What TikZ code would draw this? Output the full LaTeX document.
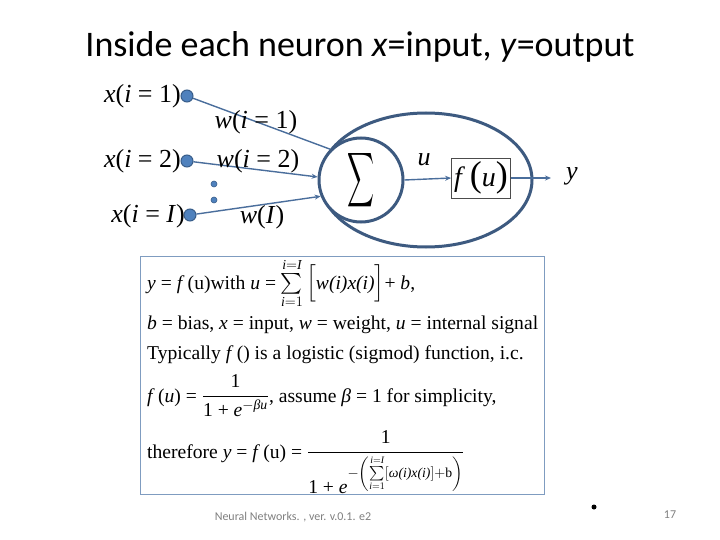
\documentclass[tikz,border=0pt]{standalone}
\usepackage{fontspec}
\usepackage{amsmath}
\usepackage{graphicx}
\setmainfont{Liberation Serif}
\newfontfamily\titlefont{Carlito}
\usetikzlibrary{arrows.meta,shapes.geometric}
\definecolor{dotblue}{HTML}{4F81BD}
\definecolor{dotedge}{HTML}{385D8A}
\definecolor{wireblue}{HTML}{4A6E9C}
\definecolor{cellblue}{HTML}{3D5A80}
\definecolor{panelblue}{HTML}{7F9CC0}
\definecolor{footgray}{HTML}{808080}
\newcommand{\vi}[1]{\textit{#1}}
\newcommand{\bigpar}[1]{{\fontsize{36}{36}\selectfont #1}}
\begin{document}
\begin{tikzpicture}[x=1pt,y=-1pt,
  inlabel/.style={font=\fontsize{26}{28}\selectfont, inner sep=0pt},
  dot/.style={circle, fill=dotblue, draw=dotedge, line width=1pt, minimum size=12pt, inner sep=0pt},
  smalldot/.style={circle, fill=dotblue, draw=dotedge, line width=0.6pt, minimum size=6pt, inner sep=0pt},
  wire/.style={draw=wireblue, line width=1.4pt},
  arr/.style={-{Stealth[length=6pt,width=5pt]}},
  cell/.style={draw=cellblue, line width=3pt},
  boxtext/.style={font=\fontsize{19.6}{22}\selectfont, inner sep=0pt, anchor=base west},
  foot/.style={font=\titlefont\fontsize{12}{14}\selectfont, text=footgray, inner sep=0pt}
]
\useasboundingbox (0,0) rectangle (720,540);
\fill[white] (0,0) rectangle (720,540);

% title
\node[font=\titlefont\fontsize{36}{40}\selectfont, inner sep=0pt] (title) at (360,47) {Inside each neuron \textit{x}=input, \textit{y}=output};

% neuron cell
\node[ellipse, cell, minimum width=212pt, minimum height=134pt, inner sep=0pt] (cellshape) at (426,180) {};
\node[circle, cell, minimum size=84pt, inner sep=0pt, fill=white] (sum) at (361,180) {\resizebox{27pt}{40pt}{$\displaystyle\sum$}};
\node[draw=black!70, line width=0.8pt, minimum width=59pt, minimum height=40pt, inner sep=0pt, font=\fontsize{28}{30}\selectfont] (fbox) at (481,178) {\vi{f}\,\bigpar{(}\vi{u}\bigpar{)}};
\coordinate (yend) at (551,178);

% inputs
\node[dot] (d1) at (187,96) {};
\node[dot] (d2) at (187,161) {};
\node[dot] (d3) at (190,215) {};
\node[smalldot] (e1) at (214,184) {};
\node[smalldot] (e2) at (214,200) {};

\node[inlabel, anchor=east] (x1) at (181,96) {\vi{x}(\vi{i} = 1)};
\node[inlabel, anchor=east] (x2) at (181,161) {\vi{x}(\vi{i} = 2)};
\node[inlabel, anchor=east] (x3) at (185,216) {\vi{x}(\vi{i} = \vi{I})};

\draw[wire] (d1) -- (sum.135);
\draw[wire, arr] (d2) -- (sum.176);
\draw[wire, arr] (d3) -- (sum.202);

\node[inlabel] (w1) at (256,122) {\vi{w}(\vi{i} = 1)};
\node[inlabel] (w2) at (258,161) {\vi{w}(\vi{i} = 2)};
\node[inlabel] (w3) at (262,217) {\vi{w}(\vi{I})};

\draw[wire, arr] (sum.east) -- (fbox.west);
\node[inlabel] (ulab) at (424,160) {\vi{u}};
\draw[wire, arr] (fbox.east) -- (yend);
\node[inlabel] (ylab) at (572,176) {\vi{y}};

% formula panel
\node[draw=panelblue, line width=1.2pt, minimum width=404pt, minimum height=238pt, inner sep=0pt, anchor=north west] (panel) at (140,256) {};

\node[boxtext] (l1) at (147,289) {\vi{y} = \vi{f}\,(u)with \vi{u} = $\sum\limits_{\vi{i}=1}^{\vi{i}=\vi{I}}$\,\Big[\vi{w(i)x(i)}\Big]+ \vi{b},};
\node[boxtext] (l2) at (147,329) {\vi{b} = bias, \vi{x} = input, \vi{w} = weight, \vi{u} = internal signal};
\node[boxtext] (l3) at (147,359) {Typically \vi{f}\,() is a logistic (sigmod) function, i.c.};
\node[boxtext] (l4) at (147,402) {\vi{f}\,(\vi{u}) = $\dfrac{\text{1}}{\text{1 + \vi{e}}^{-\text{\vi{βu}}}}$, assume \vi{β} = 1 for simplicity,};
\node[boxtext] (l5) at (147,458) {therefore \vi{y} = \vi{f}\,(u) = $\dfrac{\text{1}}{\rule{0pt}{32pt}\text{1 + \vi{e}}^{-\left(\sum\limits_{\vi{i}=1}^{\vi{i}=\vi{I}}[\vi{ω(i)x(i)}]+\text{b}\right)}}$};

% footer
\node[foot] (footer) at (293,517) {Neural Networks. , ver. v.0.1. e2};
\fill[black] (594,507) circle (2.5pt);
\node[foot] (page) at (670,515) {17};
\end{tikzpicture}
\end{document}
